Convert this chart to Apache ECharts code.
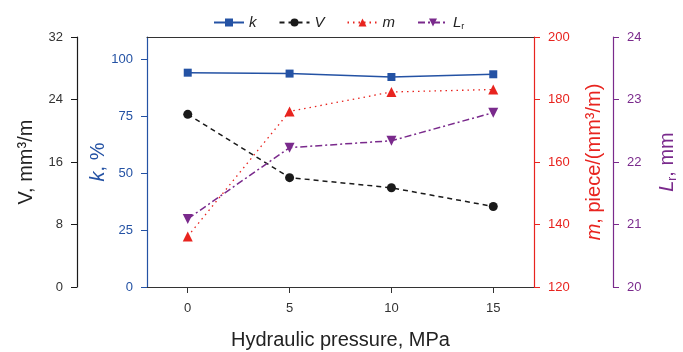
<!DOCTYPE html>
<html><head><meta charset="utf-8">
<script src="https://cdn.jsdelivr.net/npm/echarts@6/dist/echarts.min.js"></script>
<style>html,body{margin:0;padding:0;background:#fff}#c{width:683px;height:352px}</style>
</head><body><div id="c"></div>
<script>
const pressure = [0, 5, 10, 15];
const kValues = [94.3, 93.9, 92.4, 93.6];
const vValues = [22.1, 14.0, 12.7, 10.3];
const mValues = [136.2, 176.2, 182.4, 183.2];
const lrValues = [21.09, 22.23, 22.34, 22.79];
const xTicks = [0, 5, 10, 15];
const kTicks = [0, 25, 50, 75, 100];

const BLUE = '#2452a4', BLACK = '#1a1a1a', RED = '#e8241f', PURPLE = '#7a2a8c';
const FONT = 'Liberation Sans';
const NAME = 20;
const pair = (ys) => pressure.map((x, i) => [x, ys[i]]);

const chart = echarts.init(document.getElementById('c'));
chart.setOption({
  animation: false,
  textStyle: { fontFamily: FONT },
  grid: { left: 147, right: 149, top: 37, bottom: 65, outerBoundsMode: 'none', containLabel: false },
  legend: {
    top: 10, left: 208, itemWidth: 30, itemHeight: 10, itemGap: 22,
    textStyle: { fontFamily: FONT, fontSize: 15, color: '#222',
      rich: { i: { fontStyle: 'italic', fontSize: 15, fontFamily: FONT },
              s: { fontSize: 9, fontFamily: FONT, padding: [8, 0, 0, 0] } } },
    formatter: n => n === 'Lr' ? '{i|L}{s|r}' : '{i|' + n + '}',
    data: ['k', 'V', 'm', 'Lr']
  },
  xAxis: [{
    type: 'value', min: -2, max: 17, position: 'bottom',
    name: 'Hydraulic pressure, MPa', nameLocation: 'middle', nameGap: 43, nameMoveOverlap: false,
    nameTextStyle: { fontSize: NAME, color: '#222', fontFamily: FONT },
    axisLine: { onZero: false, lineStyle: { color: '#333', width: 1 } },
    axisTick: { show: true, length: 6, customValues: xTicks, lineStyle: { color: '#333' } },
    axisLabel: { customValues: xTicks, margin: 15, fontSize: 13, color: '#333' },
    splitLine: { show: false }
  }, {
    type: 'value', min: -2, max: 17, position: 'top',
    axisLine: { onZero: false, lineStyle: { color: '#333', width: 1 } },
    axisTick: { show: false }, axisLabel: { show: false }, splitLine: { show: false }
  }],
  yAxis: [{
    type: 'value', min: 0, max: 32, interval: 8, position: 'left', offset: 70,
    name: 'V, mm³/m', nameLocation: 'middle', nameRotate: 90, nameGap: 41, nameMoveOverlap: false,
    nameTextStyle: { fontSize: NAME, color: '#222', fontFamily: FONT },
    axisLine: { show: true, onZero: false, lineStyle: { color: BLACK, width: 1.2 } },
    axisTick: { show: true, length: 6, lineStyle: { color: BLACK } },
    axisLabel: { margin: 14, fontSize: 13, color: '#333' },
    splitLine: { show: false }
  }, {
    type: 'value', min: 0, max: 110, position: 'left', offset: 0,
    name: '{i|k}, %', nameLocation: 'middle', nameRotate: 90, nameGap: 39, nameMoveOverlap: false,
    nameTextStyle: { fontSize: NAME, color: BLUE, fontFamily: FONT,
      rich: { i: { fontStyle: 'italic', fontSize: NAME, color: BLUE, fontFamily: FONT } } },
    axisLine: { show: true, onZero: false, lineStyle: { color: BLUE, width: 1.2 } },
    axisTick: { show: true, length: 6, customValues: kTicks, lineStyle: { color: BLUE } },
    axisLabel: { customValues: kTicks, margin: 14, fontSize: 13, color: BLUE },
    splitLine: { show: false }
  }, {
    type: 'value', min: 120, max: 200, interval: 20, position: 'right', offset: 0,
    name: '{i|m}, piece/(mm³/m)', nameLocation: 'middle', nameRotate: 90, nameGap: 50, nameMoveOverlap: false,
    nameTextStyle: { fontSize: NAME, color: RED, fontFamily: FONT,
      rich: { i: { fontStyle: 'italic', fontSize: NAME, color: RED, fontFamily: FONT } } },
    axisLine: { show: true, onZero: false, lineStyle: { color: RED, width: 1.2 } },
    axisTick: { show: true, length: 6, lineStyle: { color: RED } },
    axisLabel: { margin: 14, fontSize: 13, color: RED },
    splitLine: { show: false }
  }, {
    type: 'value', min: 20, max: 24, interval: 1, position: 'right', offset: 79,
    name: '{i|L}{s|r}, mm', nameLocation: 'middle', nameRotate: 90, nameGap: 42, nameMoveOverlap: false,
    nameTextStyle: { fontSize: NAME, color: PURPLE, fontFamily: FONT,
      rich: { i: { fontStyle: 'italic', fontSize: NAME, color: PURPLE, fontFamily: FONT },
              s: { fontSize: 12, color: PURPLE, fontFamily: FONT, padding: [12, 0, 0, 0] } } },
    axisLine: { show: true, onZero: false, lineStyle: { color: PURPLE, width: 1.2 } },
    axisTick: { show: true, length: 6, lineStyle: { color: PURPLE } },
    axisLabel: { margin: 14, fontSize: 13, color: PURPLE },
    splitLine: { show: false }
  }],
  series: [{
    name: 'k', type: 'line', xAxisIndex: 0, yAxisIndex: 1, data: pair(kValues),
    symbol: 'rect', symbolSize: 8, color: BLUE,
    lineStyle: { color: BLUE, width: 1.5, type: 'solid' }, itemStyle: { color: BLUE }
  }, {
    name: 'V', type: 'line', xAxisIndex: 0, yAxisIndex: 0, data: pair(vValues),
    symbol: 'circle', symbolSize: 9, color: BLACK,
    lineStyle: { color: BLACK, width: 1.5, type: [5, 4] }, itemStyle: { color: BLACK }
  }, {
    name: 'm', type: 'line', xAxisIndex: 0, yAxisIndex: 2, data: pair(mValues),
    symbol: 'triangle', symbolSize: 10, color: RED,
    lineStyle: { color: RED, width: 1.3, type: [1.5, 4] }, itemStyle: { color: RED }
  }, {
    name: 'Lr', type: 'line', xAxisIndex: 0, yAxisIndex: 3, data: pair(lrValues),
    symbol: 'triangle', symbolRotate: 180, symbolSize: 10, color: PURPLE,
    lineStyle: { color: PURPLE, width: 1.5, type: [7, 3, 2, 3] }, itemStyle: { color: PURPLE }
  }]
});
</script></body></html>
